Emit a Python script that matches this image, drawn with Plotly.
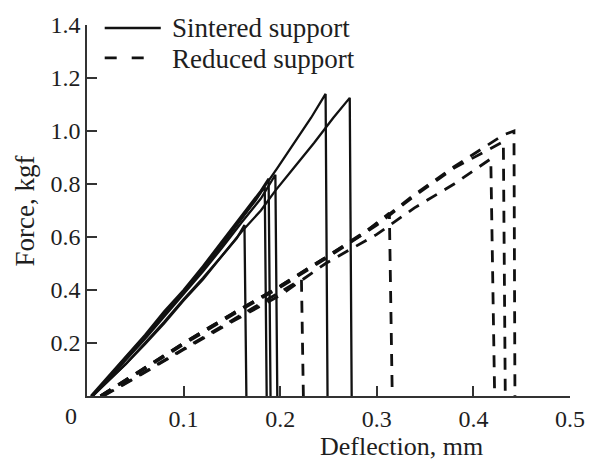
import plotly.graph_objects as go

# ---- Sintered support curves: deflection (mm) and force (kgf) ----
s1_x = [0.005, 0.02, 0.04, 0.06, 0.08, 0.10, 0.12, 0.14, 0.155, 0.163, 0.165]
s1_f = [0.0, 0.05, 0.12, 0.195, 0.275, 0.36, 0.44, 0.53, 0.595, 0.645, 0.0]

s2_x = [0.006, 0.02, 0.04, 0.06, 0.08, 0.10, 0.12, 0.14, 0.16, 0.175, 0.184, 0.186]
s2_f = [0.0, 0.06, 0.14, 0.22, 0.31, 0.39, 0.48, 0.57, 0.67, 0.74, 0.79, 0.0]

s3_x = [0.004, 0.02, 0.04, 0.06, 0.08, 0.10, 0.12, 0.14, 0.16, 0.18, 0.188, 0.190]
s3_f = [0.0, 0.065, 0.15, 0.23, 0.32, 0.40, 0.49, 0.585, 0.68, 0.775, 0.82, 0.0]

s4_x = [0.005, 0.02, 0.04, 0.06, 0.08, 0.10, 0.12, 0.14, 0.16, 0.18, 0.195, 0.197]
s4_f = [0.0, 0.055, 0.135, 0.215, 0.30, 0.385, 0.47, 0.56, 0.655, 0.745, 0.835, 0.0]

s5_x = [0.005, 0.02, 0.04, 0.06, 0.08, 0.10, 0.12, 0.14, 0.16, 0.18, 0.197, 0.217, 0.232, 0.247, 0.249]
s5_f = [0.0, 0.06, 0.145, 0.225, 0.31, 0.395, 0.485, 0.575, 0.67, 0.77, 0.86, 0.97, 1.05, 1.14, 0.0]

s6_x = [0.006, 0.02, 0.04, 0.06, 0.08, 0.10, 0.12, 0.14, 0.16, 0.18, 0.195, 0.214, 0.235, 0.255, 0.272, 0.274]
s6_f = [0.0, 0.05, 0.12, 0.20, 0.28, 0.365, 0.445, 0.53, 0.62, 0.70, 0.775, 0.86, 0.955, 1.05, 1.125, 0.0]

# ---- Reduced support curves ----
r1_x = [0.016, 0.05, 0.10, 0.15, 0.20, 0.222, 0.224]
r1_f = [0.0, 0.07, 0.178, 0.285, 0.39, 0.44, 0.0]

r2_x = [0.014, 0.05, 0.10, 0.15, 0.20, 0.25, 0.285, 0.313, 0.316]
r2_f = [0.0, 0.085, 0.20, 0.31, 0.415, 0.53, 0.61, 0.69, 0.0]

r3_x = [0.014, 0.05, 0.10, 0.15, 0.20, 0.25, 0.30, 0.339, 0.38, 0.431, 0.433]
r3_f = [0.0, 0.08, 0.195, 0.305, 0.41, 0.525, 0.645, 0.755, 0.86, 0.96, 0.0]

r4_x = [0.014, 0.05, 0.10, 0.15, 0.20, 0.25, 0.30, 0.339, 0.38, 0.431, 0.442, 0.443]
r4_f = [0.0, 0.085, 0.20, 0.31, 0.415, 0.53, 0.65, 0.76, 0.865, 0.985, 1.0, 0.0]

r5_x = [0.017, 0.05, 0.10, 0.15, 0.20, 0.247, 0.30, 0.339, 0.38, 0.418, 0.422]
r5_f = [0.0, 0.068, 0.175, 0.28, 0.38, 0.50, 0.61, 0.71, 0.80, 0.895, 0.0]

x_ticks = [0.1, 0.2, 0.3, 0.4, 0.5]
x_tick_labels = ["0.1", "0.2", "0.3", "0.4", "0.5"]
y_ticks = [0.2, 0.4, 0.6, 0.8, 1.0, 1.2, 1.4]
y_tick_labels = ["0.2", "0.4", "0.6", "0.8", "1.0", "1.2", "1.4"]

legend_labels = ["Sintered support", "Reduced support"]
x_title = "Deflection, mm"
y_title = "Force, kgf"

sintered = [(s1_x, s1_f), (s2_x, s2_f), (s3_x, s3_f), (s4_x, s4_f), (s5_x, s5_f), (s6_x, s6_f)]
reduced = [(r1_x, r1_f), (r2_x, r2_f), (r3_x, r3_f), (r4_x, r4_f), (r5_x, r5_f)]

INK = "#111111"
AX = "#333333"
TXT = "#1e1e1e"
SERIF = "Liberation Serif, Times New Roman, serif"

fig = go.Figure()
for x, f in sintered:
    fig.add_trace(go.Scatter(x=x, y=f, mode="lines", name=legend_labels[0],
                             legendgroup="s", showlegend=False,
                             line=dict(color=INK, width=2.3)))
for x, f in reduced:
    fig.add_trace(go.Scatter(x=x, y=f, mode="lines", name=legend_labels[1],
                             legendgroup="r", showlegend=False,
                             line=dict(color=INK, width=2.8, dash="12px,9px")))

L, R, T, B = 87, 19, 24, 64
W, H = 597, 460
PW, PH = W - L - R, H - T - B


def px(xp):
    return (xp - L) / PW


def py(yp):
    return (T + PH - yp) / PH


shapes = [
    dict(type="line", xref="paper", yref="paper", x0=px(105), x1=px(162), y0=py(27), y1=py(27),
         line=dict(color=INK, width=2.5)),
    dict(type="line", xref="paper", yref="paper", x0=px(105), x1=px(146), y0=py(57), y1=py(57),
         line=dict(color=INK, width=2.8, dash="12px,15px")),
]

annotations = [
    dict(text=legend_labels[0], xref="paper", yref="paper", x=px(171), y=py(27),
         xanchor="left", yanchor="middle", showarrow=False,
         font=dict(family=SERIF, size=27, color=TXT)),
    dict(text=legend_labels[1], xref="paper", yref="paper", x=px(171), y=py(58),
         xanchor="left", yanchor="middle", showarrow=False,
         font=dict(family=SERIF, size=27, color=TXT)),
    dict(text="0", xref="paper", yref="paper", x=px(71), y=py(416),
         xanchor="center", yanchor="middle", showarrow=False,
         font=dict(family=SERIF, size=24, color=TXT)),
    dict(text=x_title, xref="paper", yref="paper", x=px(407), y=py(447),
         xanchor="center", yanchor="middle", showarrow=False,
         font=dict(family=SERIF, size=26, color=TXT)),
    dict(text=y_title, xref="paper", yref="paper", x=px(24), y=py(211),
         xanchor="center", yanchor="middle", showarrow=False, textangle=-90,
         font=dict(family=SERIF, size=27, color=TXT)),
]

axis_common = dict(showline=True, linecolor=AX, linewidth=1.5, ticks="inside", ticklen=10,
                   tickwidth=1.5, tickcolor=AX, showgrid=False, zeroline=False,
                   tickfont=dict(family=SERIF, size=24, color=TXT))

fig.update_layout(
    width=W, height=H, autosize=False,
    margin=dict(l=L, r=R, t=T, b=B, pad=0),
    paper_bgcolor="white", plot_bgcolor="white",
    showlegend=False,
    xaxis=dict(range=[0, 0.5], tickvals=x_ticks, ticktext=x_tick_labels, **axis_common),
    yaxis=dict(range=[0, 1.4], tickvals=y_ticks, ticktext=y_tick_labels, **axis_common),
    shapes=shapes,
    annotations=annotations,
)

fig.write_html("out.html")
